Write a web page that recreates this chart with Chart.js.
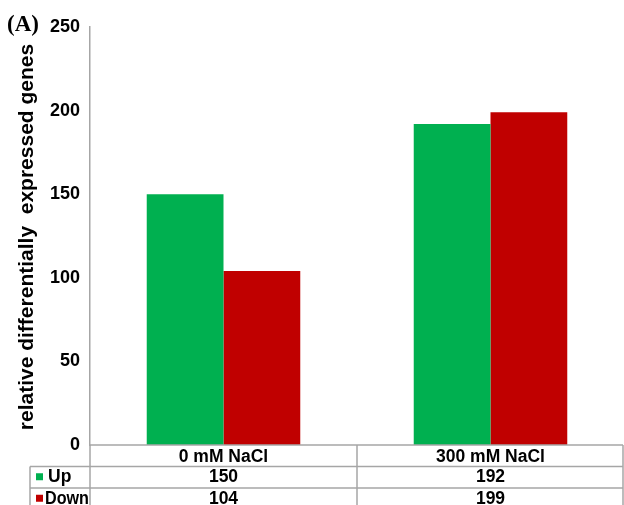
<!DOCTYPE html>
<html>
<head>
<meta charset="utf-8">
<script src="https://cdn.jsdelivr.net/npm/chart.js@4"></script>
<style>
  html, body { margin: 0; padding: 0; background: #fff; }
  #box { width: 624px; height: 505px; position: relative; }
</style>
</head>
<body>
<div id="box"><canvas id="myChart"></canvas></div>
<script>
// data
const categories = ["0 mM NaCl", "300 mM NaCl"];
const upValues = [150, 192];
const downValues = [104, 199];
const seriesNames = ["Up", "Down"];
const seriesColors = ["#00b050", "#c00000"];
const yTicks = [0, 50, 100, 150, 200, 250];

const lineColor = "#a6a6a6";
const font = "bold 17.5px 'Liberation Sans', Arial, sans-serif";

// draws the excel style data table + y title + panel label
const tablePlugin = {
  id: "dataTable",
  afterDraw(chart) {
    const ctx = chart.ctx;
    const area = chart.chartArea;
    const xs = chart.scales.x;
    const top = area.bottom;
    const rowH = 21.5;
    const leftRows = 30;
    const right = chart.width - 1;
    ctx.save();
    ctx.strokeStyle = lineColor;
    ctx.lineWidth = 1.5;
    // horizontal lines
    ctx.beginPath();
    ctx.moveTo(area.left, top); ctx.lineTo(right, top);
    for (let r = 1; r <= 2; r++) {
      ctx.moveTo(leftRows, top + rowH * r); ctx.lineTo(right, top + rowH * r);
    }
    // vertical lines
    ctx.moveTo(area.left, top); ctx.lineTo(area.left, chart.height);
    ctx.moveTo(leftRows, top + rowH); ctx.lineTo(leftRows, chart.height);
    for (let i = 0; i < categories.length; i++) {
      const edge = (xs.getPixelForValue(i) + (i + 1 < categories.length ? xs.getPixelForValue(i + 1) : right + (right - xs.getPixelForValue(i)))) / 2;
      ctx.moveTo(Math.min(edge, right), top); ctx.lineTo(Math.min(edge, right), chart.height);
    }
    ctx.stroke();

    ctx.fillStyle = "#000";
    ctx.font = font;
    ctx.textAlign = "center";
    ctx.textBaseline = "middle";
    const rows = [upValues, downValues];
    categories.forEach((c, i) => {
      const cx = xs.getPixelForValue(i);
      ctx.fillText(c, cx, top + rowH / 2 + 1);
      rows.forEach((vals, r) => {
        ctx.fillText(String(vals[i]), cx, top + rowH * (r + 1.5));
      });
    });
    // legend keys
    ctx.textAlign = "left";
    seriesNames.forEach((n, r) => {
      const cy = top + rowH * (r + 1.5);
      ctx.fillStyle = seriesColors[r];
      ctx.fillRect(36, cy - 4, 7, 7);
      ctx.fillStyle = "#000";
      const tx = r == 0 ? 48 : 45;
      ctx.fillText(n, tx, cy, area.left - tx - 1);
    });

    // y axis title
    ctx.save();
    ctx.translate(27, 237);
    ctx.rotate(-Math.PI / 2);
    ctx.textAlign = "center";
    ctx.font = "bold 21px 'Liberation Sans', Arial, sans-serif";
    ctx.fillText("relative differentially  expressed genes", 0, 0);
    ctx.restore();

    // panel label
    ctx.textAlign = "left";
    ctx.textBaseline = "alphabetic";
    ctx.font = "bold 23px 'Liberation Serif', 'Times New Roman', serif";
    ctx.fillText("(A)", 7, 31);
    ctx.restore();
  }
};

const ctx = document.getElementById("myChart");
new Chart(ctx, {
  type: "bar",
  data: {
    labels: categories,
    datasets: [
      { label: seriesNames[0], data: upValues, backgroundColor: seriesColors[0] },
      { label: seriesNames[1], data: downValues, backgroundColor: seriesColors[1] }
    ]
  },
  options: {
    responsive: true,
    maintainAspectRatio: false,
    animation: false,
    events: [],
    layout: { padding: { top: 27, right: 0, left: 0, bottom: 0 } },
    plugins: { legend: { display: false }, tooltip: { enabled: false } },
    datasets: { bar: { barPercentage: 1, categoryPercentage: 0.575 } },
    scales: {
      x: {
        ticks: { display: false },
        grid: { display: false, drawTicks: false },
        border: { display: false },
        afterFit(scale) { scale.height = 60; }
      },
      y: {
        min: 0,
        max: 250,
        afterBuildTicks(scale) { scale.ticks = yTicks.map(v => ({ value: v })); },
        ticks: {
          color: "#000",
          font: { family: "'Liberation Sans', Arial, sans-serif", size: 18, weight: "bold" },
          padding: 10
        },
        grid: { display: false, drawTicks: false },
        border: { color: lineColor, width: 1.5 },
        afterFit(scale) { scale.width = 90; }
      }
    }
  },
  plugins: [tablePlugin]
});
</script>
</body>
</html>
